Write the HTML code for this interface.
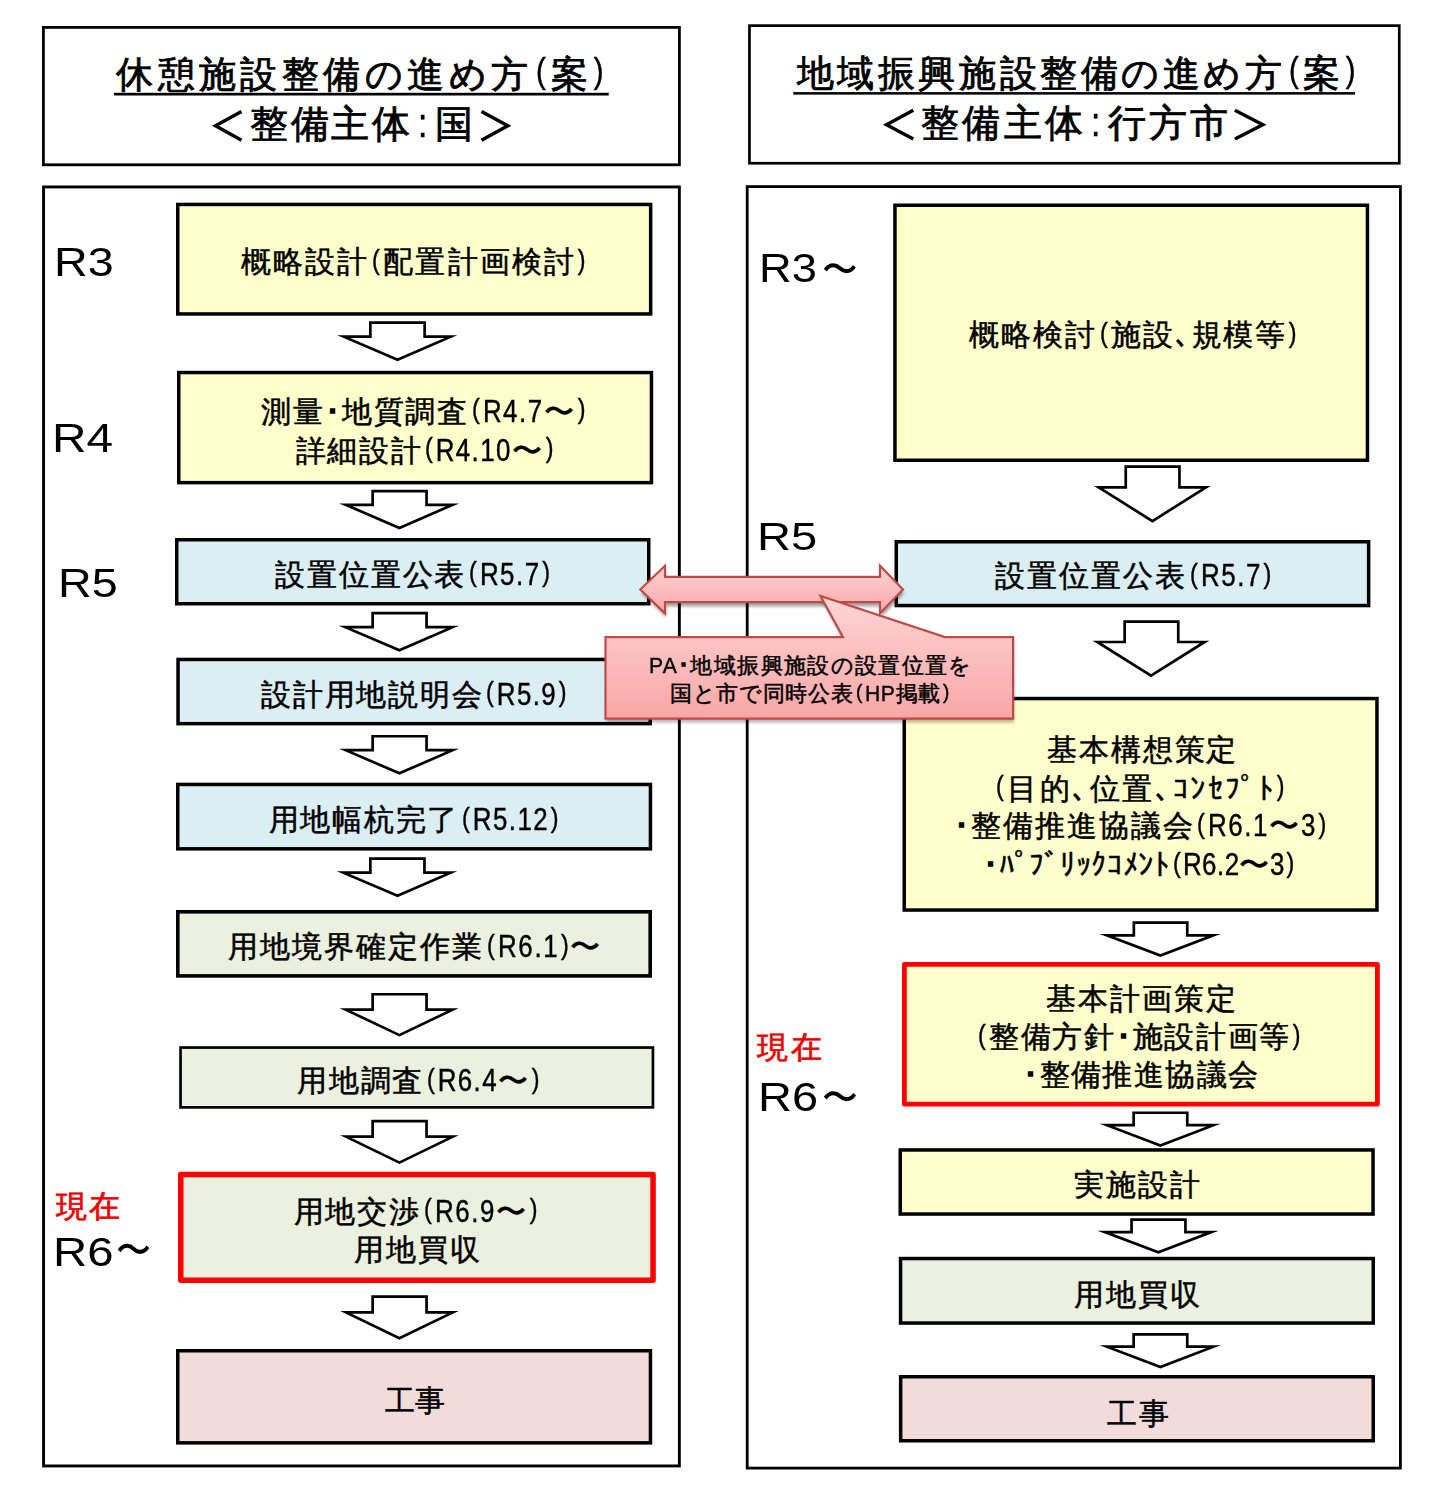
<!DOCTYPE html><html><head><meta charset="utf-8"><style>
html,body{margin:0;padding:0;background:#fff;width:1452px;height:1499px;overflow:hidden;position:relative;}
body{font-family:'Liberation Sans',sans-serif;}
.b{position:absolute;box-sizing:border-box;}
.t{position:absolute;white-space:nowrap;line-height:1;color:#000;transform-origin:0 0;}
</style></head><body>
<svg width="1452" height="1499" style="position:absolute;left:0;top:0">
<rect x="43.40" y="27.40" width="636.00" height="137.40" fill="#fff" stroke="#000" stroke-width="2.80"/>
<rect x="749.45" y="25.65" width="649.80" height="137.60" fill="#fff" stroke="#000" stroke-width="2.70"/>
<rect x="43.55" y="186.95" width="635.80" height="1279.00" fill="#fff" stroke="#000" stroke-width="2.90"/>
<rect x="747.20" y="186.60" width="653.20" height="1281.50" fill="#fff" stroke="#000" stroke-width="2.80"/>
<rect x="177.75" y="204.45" width="472.90" height="109.50" fill="#FFFFCC" stroke="#000" stroke-width="3.50"/>
<rect x="178.75" y="372.55" width="472.70" height="110.10" fill="#FFFFCC" stroke="#000" stroke-width="3.50"/>
<rect x="176.75" y="539.75" width="472.00" height="64.00" fill="#DBEEF4" stroke="#000" stroke-width="3.50"/>
<rect x="178.05" y="659.45" width="472.20" height="64.20" fill="#DBEEF4" stroke="#000" stroke-width="3.50"/>
<rect x="177.75" y="784.45" width="472.70" height="64.40" fill="#DBEEF4" stroke="#000" stroke-width="3.50"/>
<rect x="177.80" y="911.80" width="472.40" height="64.10" fill="#EBF1DE" stroke="#000" stroke-width="3.60"/>
<rect x="180.55" y="1047.55" width="472.40" height="59.80" fill="#EBF1DE" stroke="#000" stroke-width="2.70"/>
<rect x="180.75" y="1174.55" width="472.30" height="105.70" fill="#EBF1DE" stroke="#FF0000" stroke-width="5.50" stroke-linejoin="round"/>
<rect x="177.75" y="1350.75" width="472.70" height="92.10" fill="#F2DCDB" stroke="#000" stroke-width="3.50"/>
<rect x="894.95" y="205.25" width="472.50" height="255.00" fill="#FFFFCC" stroke="#000" stroke-width="3.50"/>
<rect x="896.25" y="541.75" width="472.40" height="63.80" fill="#DBEEF4" stroke="#000" stroke-width="3.50"/>
<rect x="904.25" y="698.55" width="472.70" height="211.50" fill="#FFFFCC" stroke="#000" stroke-width="3.50"/>
<rect x="904.40" y="964.30" width="473.00" height="139.90" fill="#FFFFCC" stroke="#FF0000" stroke-width="4.80" stroke-linejoin="round"/>
<rect x="900.25" y="1149.95" width="472.80" height="64.10" fill="#FFFFCC" stroke="#000" stroke-width="3.50"/>
<rect x="900.55" y="1258.55" width="472.70" height="64.50" fill="#EBF1DE" stroke="#000" stroke-width="3.50"/>
<rect x="900.65" y="1376.75" width="472.60" height="64.00" fill="#F2DCDB" stroke="#000" stroke-width="3.50"/>
<polygon points="370.35,322.65 424.65,322.65 424.65,336.70 450.77,336.70 397.50,359.83 343.73,336.70 370.35,336.70" fill="#fff" stroke="#000" stroke-width="2.7" stroke-miterlimit="12"/>
<polygon points="372.65,491.15 426.55,491.15 426.55,504.80 452.68,504.80 399.40,527.93 345.72,504.80 372.65,504.80" fill="#fff" stroke="#000" stroke-width="2.7" stroke-miterlimit="12"/>
<polygon points="372.65,613.15 426.55,613.15 426.55,627.20 452.65,627.20 399.40,650.33 345.25,627.20 372.65,627.20" fill="#fff" stroke="#000" stroke-width="2.7" stroke-miterlimit="12"/>
<polygon points="372.65,736.25 426.55,736.25 426.55,750.20 452.68,750.20 399.40,773.33 345.72,750.20 372.65,750.20" fill="#fff" stroke="#000" stroke-width="2.7" stroke-miterlimit="12"/>
<polygon points="370.35,858.55 424.45,858.55 424.45,872.70 450.75,872.70 397.50,895.83 343.35,872.70 370.35,872.70" fill="#fff" stroke="#000" stroke-width="2.7" stroke-miterlimit="12"/>
<polygon points="372.65,994.25 426.55,994.25 426.55,1009.60 452.72,1009.60 399.40,1035.10 345.58,1009.60 372.65,1009.60" fill="#fff" stroke="#000" stroke-width="2.7" stroke-miterlimit="12"/>
<polygon points="372.65,1121.15 426.55,1121.15 426.55,1136.60 452.84,1136.60 399.40,1162.60 345.96,1136.60 372.65,1136.60" fill="#fff" stroke="#000" stroke-width="2.7" stroke-miterlimit="12"/>
<polygon points="372.65,1296.65 426.55,1296.65 426.55,1312.40 452.80,1312.40 399.40,1338.20 346.00,1312.40 372.65,1312.40" fill="#fff" stroke="#000" stroke-width="2.7" stroke-miterlimit="12"/>
<polygon points="1125.75,466.65 1179.45,466.65 1179.45,487.30 1206.02,487.30 1152.40,521.10 1098.68,487.30 1125.75,487.30" fill="#fff" stroke="#000" stroke-width="2.7" stroke-miterlimit="12"/>
<polygon points="1124.65,621.65 1178.25,621.65 1178.25,642.00 1204.60,642.00 1151.00,675.61 1097.30,642.00 1124.65,642.00" fill="#fff" stroke="#000" stroke-width="2.7" stroke-miterlimit="12"/>
<polygon points="1133.85,922.55 1187.25,922.55 1187.25,935.30 1213.45,935.30 1160.40,955.56 1106.85,935.30 1133.85,935.30" fill="#fff" stroke="#000" stroke-width="2.7" stroke-miterlimit="12"/>
<polygon points="1133.65,1112.75 1187.25,1112.75 1187.25,1125.20 1213.45,1125.20 1160.40,1145.46 1106.85,1125.20 1133.65,1125.20" fill="#fff" stroke="#000" stroke-width="2.7" stroke-miterlimit="12"/>
<polygon points="1131.55,1219.55 1185.45,1219.55 1185.45,1232.10 1211.44,1232.10 1158.30,1252.36 1104.76,1232.10 1131.55,1232.10" fill="#fff" stroke="#000" stroke-width="2.7" stroke-miterlimit="12"/>
<polygon points="1133.65,1334.35 1187.25,1334.35 1187.25,1346.70 1213.45,1346.70 1160.40,1366.96 1106.85,1346.70 1133.65,1346.70" fill="#fff" stroke="#000" stroke-width="2.7" stroke-miterlimit="12"/>
</svg>
<div class="t" id="hL1" style="left:116.20px;top:55.89px;font-size:37.00px;transform:scaleX(1.0000);color:#000;-webkit-text-stroke:0.80px #000;letter-spacing:4.433px">休憩施設整備の進め方<span class="l" style="display:inline-block;line-height:0;font-size:1.070em;transform:scaleX(0.820);transform-origin:0 0;margin-left:3.0px;margin-right:-3.24px;-webkit-text-stroke:0.50px"><span style="font-size:0.9em;position:relative;top:-0.12em;margin-right:2px">(</span></span>案<span class="l" style="display:inline-block;line-height:0;font-size:1.070em;transform:scaleX(0.820);transform-origin:0 0;margin-left:0.0px;margin-right:-3.24px;-webkit-text-stroke:0.50px"><span style="font-size:0.9em;position:relative;top:-0.12em;margin-left:2px">)</span></span></div>
<div class="t" id="hL2" style="left:249.70px;top:105.39px;font-size:38.00px;transform:scaleX(1.0000);color:#000;-webkit-text-stroke:0.80px #000;letter-spacing:2.840px">整備主体<span class="l" style="display:inline-block;line-height:0;font-size:1.070em;transform:scaleX(0.820);transform-origin:0 0;margin-left:5.0px;margin-right:2.48px;-webkit-text-stroke:0.50px">:</span>国</div>
<div class="t" id="hR1" style="left:796.70px;top:55.09px;font-size:37.00px;transform:scaleX(1.0000);color:#000;-webkit-text-stroke:0.80px #000;letter-spacing:3.571px">地域振興施設整備の進め方<span class="l" style="display:inline-block;line-height:0;font-size:1.070em;transform:scaleX(0.820);transform-origin:0 0;margin-left:3.0px;margin-right:-3.06px;-webkit-text-stroke:0.50px"><span style="font-size:0.9em;position:relative;top:-0.12em;margin-right:2px">(</span></span>案<span class="l" style="display:inline-block;line-height:0;font-size:1.070em;transform:scaleX(0.820);transform-origin:0 0;margin-left:0.0px;margin-right:-3.06px;-webkit-text-stroke:0.50px"><span style="font-size:0.9em;position:relative;top:-0.12em;margin-left:2px">)</span></span></div>
<div class="t" id="hR2" style="left:921.30px;top:104.44px;font-size:38.00px;transform:scaleX(1.0000);color:#000;-webkit-text-stroke:0.80px #000;letter-spacing:3.143px">整備主体<span class="l" style="display:inline-block;line-height:0;font-size:1.070em;transform:scaleX(0.820);transform-origin:0 0;margin-left:5.0px;margin-right:2.48px;-webkit-text-stroke:0.50px">:</span>行方市</div>
<div class="t" id="B1" style="left:240.60px;top:247.05px;font-size:29.50px;transform:scaleX(1.0000);color:#000;-webkit-text-stroke:0.50px #000;letter-spacing:2.145px">概略設計<span class="l" style="display:inline-block;line-height:0;font-size:1.070em;transform:scaleX(0.820);transform-origin:0 0;margin-left:3.0px;margin-right:-2.52px;-webkit-text-stroke:0.45px"><span style="font-size:0.9em;position:relative;top:-0.12em;margin-right:2px">(</span></span>配置計画検討<span class="l" style="display:inline-block;line-height:0;font-size:1.070em;transform:scaleX(0.820);transform-origin:0 0;margin-left:0.0px;margin-right:-2.52px;-webkit-text-stroke:0.45px"><span style="font-size:0.9em;position:relative;top:-0.12em;margin-left:2px">)</span></span></div>
<div class="t" id="B2a" style="left:261.30px;top:396.55px;font-size:29.50px;transform:scaleX(1.0000);color:#000;-webkit-text-stroke:0.50px #000;letter-spacing:1.831px">測量<span style="-webkit-text-stroke:1.3px">･</span>地質調査<span class="l" style="display:inline-block;line-height:0;font-size:1.070em;transform:scaleX(0.820);transform-origin:0 0;margin-left:3.0px;margin-right:-15.66px;-webkit-text-stroke:0.45px"><span style="font-size:0.9em;position:relative;top:-0.12em;margin-right:2px">(</span>R4.7</span>〜<span class="l" style="display:inline-block;line-height:0;font-size:1.070em;transform:scaleX(0.820);transform-origin:0 0;margin-left:0.0px;margin-right:-2.34px;-webkit-text-stroke:0.45px"><span style="font-size:0.9em;position:relative;top:-0.12em;margin-left:2px">)</span></span></div>
<div class="t" id="B2b" style="left:295.70px;top:435.70px;font-size:29.50px;transform:scaleX(1.0000);color:#000;-webkit-text-stroke:0.50px #000;letter-spacing:1.673px">詳細設計<span class="l" style="display:inline-block;line-height:0;font-size:1.070em;transform:scaleX(0.820);transform-origin:0 0;margin-left:3.0px;margin-right:-19.08px;-webkit-text-stroke:0.45px"><span style="font-size:0.9em;position:relative;top:-0.12em;margin-right:2px">(</span>R4.10</span>〜<span class="l" style="display:inline-block;line-height:0;font-size:1.070em;transform:scaleX(0.820);transform-origin:0 0;margin-left:0.0px;margin-right:-2.34px;-webkit-text-stroke:0.45px"><span style="font-size:0.9em;position:relative;top:-0.12em;margin-left:2px">)</span></span></div>
<div class="t" id="B3" style="left:275.30px;top:559.90px;font-size:29.50px;transform:scaleX(1.0000);color:#000;-webkit-text-stroke:0.50px #000;letter-spacing:1.836px">設置位置公表<span class="l" style="display:inline-block;line-height:0;font-size:1.070em;transform:scaleX(0.820);transform-origin:0 0;margin-left:3.0px;margin-right:-18.00px;-webkit-text-stroke:0.45px"><span style="font-size:0.9em;position:relative;top:-0.12em;margin-right:2px">(</span>R5.7<span style="font-size:0.9em;position:relative;top:-0.12em;margin-left:2px">)</span></span></div>
<div class="t" id="B4" style="left:261.20px;top:679.60px;font-size:29.50px;transform:scaleX(1.0000);color:#000;-webkit-text-stroke:0.50px #000;letter-spacing:1.733px">設計用地説明会<span class="l" style="display:inline-block;line-height:0;font-size:1.070em;transform:scaleX(0.820);transform-origin:0 0;margin-left:3.0px;margin-right:-18.00px;-webkit-text-stroke:0.45px"><span style="font-size:0.9em;position:relative;top:-0.12em;margin-right:2px">(</span>R5.9<span style="font-size:0.9em;position:relative;top:-0.12em;margin-left:2px">)</span></span></div>
<div class="t" id="B5" style="left:268.70px;top:805.40px;font-size:29.50px;transform:scaleX(1.0000);color:#000;-webkit-text-stroke:0.50px #000;letter-spacing:1.750px">用地幅杭完了<span class="l" style="display:inline-block;line-height:0;font-size:1.070em;transform:scaleX(0.820);transform-origin:0 0;margin-left:3.0px;margin-right:-21.42px;-webkit-text-stroke:0.45px"><span style="font-size:0.9em;position:relative;top:-0.12em;margin-right:2px">(</span>R5.12<span style="font-size:0.9em;position:relative;top:-0.12em;margin-left:2px">)</span></span></div>
<div class="t" id="B6" style="left:227.80px;top:932.10px;font-size:29.50px;transform:scaleX(1.0000);color:#000;-webkit-text-stroke:0.50px #000;letter-spacing:2.000px">用地境界確定作業<span class="l" style="display:inline-block;line-height:0;font-size:1.070em;transform:scaleX(0.820);transform-origin:0 0;margin-left:3.0px;margin-right:-18.36px;-webkit-text-stroke:0.45px"><span style="font-size:0.9em;position:relative;top:-0.12em;margin-right:2px">(</span>R6.1<span style="font-size:0.9em;position:relative;top:-0.12em;margin-left:2px">)</span></span>〜</div>
<div class="t" id="B7" style="left:297.30px;top:1066.00px;font-size:29.50px;transform:scaleX(1.0000);color:#000;-webkit-text-stroke:0.50px #000;letter-spacing:1.680px">用地調査<span class="l" style="display:inline-block;line-height:0;font-size:1.070em;transform:scaleX(0.820);transform-origin:0 0;margin-left:3.0px;margin-right:-15.48px;-webkit-text-stroke:0.45px"><span style="font-size:0.9em;position:relative;top:-0.12em;margin-right:2px">(</span>R6.4</span>〜<span class="l" style="display:inline-block;line-height:0;font-size:1.070em;transform:scaleX(0.820);transform-origin:0 0;margin-left:0.0px;margin-right:-2.34px;-webkit-text-stroke:0.45px"><span style="font-size:0.9em;position:relative;top:-0.12em;margin-left:2px">)</span></span></div>
<div class="t" id="B8a" style="left:293.60px;top:1196.75px;font-size:29.50px;transform:scaleX(1.0000);color:#000;-webkit-text-stroke:0.50px #000;letter-spacing:1.900px">用地交渉<span class="l" style="display:inline-block;line-height:0;font-size:1.070em;transform:scaleX(0.820);transform-origin:0 0;margin-left:3.0px;margin-right:-15.84px;-webkit-text-stroke:0.45px"><span style="font-size:0.9em;position:relative;top:-0.12em;margin-right:2px">(</span>R6.9</span>〜<span class="l" style="display:inline-block;line-height:0;font-size:1.070em;transform:scaleX(0.820);transform-origin:0 0;margin-left:0.0px;margin-right:-2.34px;-webkit-text-stroke:0.45px"><span style="font-size:0.9em;position:relative;top:-0.12em;margin-left:2px">)</span></span></div>
<div class="t" id="B8b" style="left:354.20px;top:1234.90px;font-size:29.50px;transform:scaleX(1.0000);color:#000;-webkit-text-stroke:0.50px #000;letter-spacing:2.067px">用地買収</div>
<div class="t" id="B9" style="left:385.00px;top:1386.05px;font-size:29.50px;transform:scaleX(1.0000);color:#000;-webkit-text-stroke:0.50px #000;letter-spacing:0.000px">工事</div>
<div class="t" id="RB1" style="left:969.30px;top:320.45px;font-size:29.50px;transform:scaleX(1.0000);color:#000;-webkit-text-stroke:0.50px #000;letter-spacing:1.891px">概略検討<span class="l" style="display:inline-block;line-height:0;font-size:1.070em;transform:scaleX(0.820);transform-origin:0 0;margin-left:3.0px;margin-right:-2.34px;-webkit-text-stroke:0.45px"><span style="font-size:0.9em;position:relative;top:-0.12em;margin-right:2px">(</span></span>施設､規模等<span class="l" style="display:inline-block;line-height:0;font-size:1.070em;transform:scaleX(0.820);transform-origin:0 0;margin-left:0.0px;margin-right:-2.34px;-webkit-text-stroke:0.45px"><span style="font-size:0.9em;position:relative;top:-0.12em;margin-left:2px">)</span></span></div>
<div class="t" id="RB2" style="left:995.30px;top:561.10px;font-size:29.50px;transform:scaleX(1.0000);color:#000;-webkit-text-stroke:0.50px #000;letter-spacing:1.909px">設置位置公表<span class="l" style="display:inline-block;line-height:0;font-size:1.070em;transform:scaleX(0.820);transform-origin:0 0;margin-left:3.0px;margin-right:-18.18px;-webkit-text-stroke:0.45px"><span style="font-size:0.9em;position:relative;top:-0.12em;margin-right:2px">(</span>R5.7<span style="font-size:0.9em;position:relative;top:-0.12em;margin-left:2px">)</span></span></div>
<div class="t" id="RB3a" style="left:1047.20px;top:735.40px;font-size:29.50px;transform:scaleX(1.0000);color:#000;-webkit-text-stroke:0.50px #000;letter-spacing:1.840px">基本構想策定</div>
<div class="t" id="RB3b" style="left:995.70px;top:773.90px;font-size:29.50px;transform:scaleX(1.0000);color:#000;-webkit-text-stroke:0.50px #000;letter-spacing:2.569px"><span class="l" style="display:inline-block;line-height:0;font-size:1.070em;transform:scaleX(0.820);transform-origin:0 0;margin-left:0.0px;margin-right:-2.52px;-webkit-text-stroke:0.45px"><span style="font-size:0.9em;position:relative;top:-0.12em;margin-right:2px">(</span></span>目的､位置､ｺﾝｾﾌﾟﾄ<span class="l" style="display:inline-block;line-height:0;font-size:1.070em;transform:scaleX(0.820);transform-origin:0 0;margin-left:0.0px;margin-right:-2.52px;-webkit-text-stroke:0.45px"><span style="font-size:0.9em;position:relative;top:-0.12em;margin-left:2px">)</span></span></div>
<div class="t" id="RB3c" style="left:954.00px;top:811.20px;font-size:29.50px;transform:scaleX(1.0000);color:#000;-webkit-text-stroke:0.50px #000;letter-spacing:1.933px"><span style="-webkit-text-stroke:1.3px">･</span>整備推進協議会<span class="l" style="display:inline-block;line-height:0;font-size:1.070em;transform:scaleX(0.820);transform-origin:0 0;margin-left:3.0px;margin-right:-15.84px;-webkit-text-stroke:0.45px"><span style="font-size:0.9em;position:relative;top:-0.12em;margin-right:2px">(</span>R6.1</span>〜<span class="l" style="display:inline-block;line-height:0;font-size:1.070em;transform:scaleX(0.820);transform-origin:0 0;margin-left:0.0px;margin-right:-5.94px;-webkit-text-stroke:0.45px">3<span style="font-size:0.9em;position:relative;top:-0.12em;margin-left:2px">)</span></span></div>
<div class="t" id="RB3d" style="left:983.20px;top:850.05px;font-size:29.50px;transform:scaleX(1.0000);color:#000;-webkit-text-stroke:0.50px #000;letter-spacing:0.632px"><span style="-webkit-text-stroke:1.3px">･</span>ﾊﾟﾌﾞﾘｯｸｺﾒﾝﾄ<span class="l" style="display:inline-block;line-height:0;font-size:1.070em;transform:scaleX(0.820);transform-origin:0 0;margin-left:3.0px;margin-right:-14.58px;-webkit-text-stroke:0.45px"><span style="font-size:0.9em;position:relative;top:-0.12em;margin-right:2px">(</span>R6.2</span>〜<span class="l" style="display:inline-block;line-height:0;font-size:1.070em;transform:scaleX(0.820);transform-origin:0 0;margin-left:0.0px;margin-right:-5.40px;-webkit-text-stroke:0.45px">3<span style="font-size:0.9em;position:relative;top:-0.12em;margin-left:2px">)</span></span></div>
<div class="t" id="RB4a" style="left:1045.80px;top:983.85px;font-size:29.50px;transform:scaleX(1.0000);color:#000;-webkit-text-stroke:0.50px #000;letter-spacing:1.960px">基本計画策定</div>
<div class="t" id="RB4b" style="left:977.90px;top:1022.05px;font-size:29.50px;transform:scaleX(1.0000);color:#000;-webkit-text-stroke:0.50px #000;letter-spacing:1.745px"><span class="l" style="display:inline-block;line-height:0;font-size:1.070em;transform:scaleX(0.820);transform-origin:0 0;margin-left:0.0px;margin-right:-2.34px;-webkit-text-stroke:0.45px"><span style="font-size:0.9em;position:relative;top:-0.12em;margin-right:2px">(</span></span>整備方針<span style="-webkit-text-stroke:1.3px">･</span>施設計画等<span class="l" style="display:inline-block;line-height:0;font-size:1.070em;transform:scaleX(0.820);transform-origin:0 0;margin-left:0.0px;margin-right:-2.34px;-webkit-text-stroke:0.45px"><span style="font-size:0.9em;position:relative;top:-0.12em;margin-left:2px">)</span></span></div>
<div class="t" id="RB4c" style="left:1023.00px;top:1059.50px;font-size:29.50px;transform:scaleX(1.0000);color:#000;-webkit-text-stroke:0.50px #000;letter-spacing:1.486px"><span style="-webkit-text-stroke:1.3px">･</span>整備推進協議会</div>
<div class="t" id="RB5" style="left:1073.90px;top:1169.55px;font-size:29.50px;transform:scaleX(1.0000);color:#000;-webkit-text-stroke:0.50px #000;letter-spacing:2.133px">実施設計</div>
<div class="t" id="RB6" style="left:1073.90px;top:1279.65px;font-size:29.50px;transform:scaleX(1.0000);color:#000;-webkit-text-stroke:0.50px #000;letter-spacing:2.133px">用地買収</div>
<div class="t" id="RB7" style="left:1107.40px;top:1398.55px;font-size:29.50px;transform:scaleX(1.0000);color:#000;-webkit-text-stroke:0.50px #000;letter-spacing:1.600px">工事</div>
<div class="t" id="LR3" style="left:53.60px;top:241.60px;font-size:41.18px;transform:scaleX(1.1336);color:#000;-webkit-text-stroke:0.00px #000;letter-spacing:0.000px">R3</div>
<div class="t" id="LR4" style="left:52.00px;top:417.60px;font-size:41.18px;transform:scaleX(1.1600);color:#000;-webkit-text-stroke:0.00px #000;letter-spacing:0.000px">R4</div>
<div class="t" id="LR5" style="left:57.90px;top:562.65px;font-size:41.32px;transform:scaleX(1.1294);color:#000;-webkit-text-stroke:0.00px #000;letter-spacing:0.000px">R5</div>
<div class="t" id="LR6" style="left:52.60px;top:1232.85px;font-size:40.15px;transform:scaleX(1.1793);color:#000;-webkit-text-stroke:0.00px #000;letter-spacing:0.000px">R6</div>
<div class="t" id="LR6t" style="left:116.30px;top:1230.95px;font-size:40.20px;transform:scaleX(0.8781);color:#000;-webkit-text-stroke:0.00px #000;letter-spacing:0.000px">〜</div>
<div class="t" id="Lnow" style="left:56.00px;top:1191.45px;font-size:31.00px;transform:scaleX(1.0000);color:#EE0000;-webkit-text-stroke:0.70px #EE0000;letter-spacing:1.800px">現在</div>
<div class="t" id="RR3" style="left:759.00px;top:248.10px;font-size:40.00px;transform:scaleX(1.1326);color:#000;-webkit-text-stroke:0.00px #000;letter-spacing:0.000px">R3</div>
<div class="t" id="RR3t" style="left:822.00px;top:250.50px;font-size:38.50px;transform:scaleX(0.9143);color:#000;-webkit-text-stroke:0.00px #000;letter-spacing:0.000px">〜</div>
<div class="t" id="RR5" style="left:757.00px;top:518.10px;font-size:38.53px;transform:scaleX(1.2226);color:#000;-webkit-text-stroke:0.00px #000;letter-spacing:0.000px">R5</div>
<div class="t" id="RR6" style="left:758.00px;top:1077.85px;font-size:40.15px;transform:scaleX(1.1706);color:#000;-webkit-text-stroke:0.00px #000;letter-spacing:0.000px">R6</div>
<div class="t" id="RR6t" style="left:821.50px;top:1079.05px;font-size:38.50px;transform:scaleX(0.9204);color:#000;-webkit-text-stroke:0.00px #000;letter-spacing:0.000px">〜</div>
<div class="t" id="Rnow" style="left:757.40px;top:1031.50px;font-size:31.00px;transform:scaleX(1.0000);color:#EE0000;-webkit-text-stroke:0.70px #EE0000;letter-spacing:2.200px">現在</div>
<svg width="1452" height="1499" style="position:absolute;left:0;top:0">
<defs>
<linearGradient id="pg" x1="0" y1="0" x2="0" y2="1">
<stop offset="0" stop-color="#FDD3D3"/><stop offset="1" stop-color="#F9A8A8"/>
</linearGradient>
<linearGradient id="pg2" gradientUnits="userSpaceOnUse" x1="0" y1="595" x2="0" y2="719">
<stop offset="0" stop-color="#FDD6D6"/><stop offset="1" stop-color="#F9A6A6"/>
</linearGradient>
<filter id="blur" x="-10%" y="-30%" width="120%" height="160%"><feGaussianBlur stdDeviation="1.8"/></filter>
</defs>
<!-- underlines -->
<rect x="114.1" y="92.8" width="494.6" height="2.7" fill="#000"/>
<rect x="793.2" y="92.1" width="561.8" height="2.5" fill="#000"/>
<!-- chevrons -->
<polyline points="241.5,111.5 215.5,125.8 241.5,140.2" fill="none" stroke="#000" stroke-width="3.4" stroke-miterlimit="10"/>
<polyline points="481.5,111.5 507.8,125.8 481.5,140.2" fill="none" stroke="#000" stroke-width="3.4" stroke-miterlimit="10"/>
<polyline points="913.3,110.2 886.5,124.7 913.3,139.1" fill="none" stroke="#000" stroke-width="3.4" stroke-miterlimit="10"/>
<polyline points="1234.9,110.2 1262.8,124.7 1234.9,139.1" fill="none" stroke="#000" stroke-width="3.4" stroke-miterlimit="10"/>
<!-- double arrow shadow -->
<polygon points="641.5,593.5 666,569.5 666,581 881,581 881,569.5 904,593.5 881,617.5 881,606.5 666,606.5 666,617.5" fill="rgba(0,0,0,0.36)" filter="url(#blur)"/>
<polygon points="640.3,589.5 665,565.8 665,576.9 880,576.9 880,565.8 903,589.5 880,613.3 880,602.2 665,602.2 665,613.3" fill="url(#pg)" stroke="#BE4B48" stroke-width="2.2" stroke-miterlimit="10"/>
<!-- callout shadow -->
<polygon points="606.5,640 843,640 820.5,599 945,640 1014,640 1014,722.5 606.5,722.5" fill="rgba(0,0,0,0.28)" filter="url(#blur)"/>
<polygon points="605.5,637.1 843,637.1 820.5,596 945,637.1 1013.1,637.1 1013.1,718.7 605.5,718.7" fill="url(#pg2)" stroke="#BE4B48" stroke-width="2.2" stroke-miterlimit="10"/>
</svg>

<div class="t" id="C1" style="left:648.80px;top:654.86px;font-size:21.80px;transform:scaleX(1.0000);color:#000;-webkit-text-stroke:0.50px #000;letter-spacing:1.357px"><span class="l" style="display:inline-block;line-height:0;font-size:1.000em;transform:scaleX(0.970);transform-origin:0 0;margin-left:0.0px;margin-right:-0.90px;-webkit-text-stroke:0.40px">PA</span><span style="-webkit-text-stroke:1.3px">･</span>地域振興施設の設置位置を</div>
<div class="t" id="C2" style="left:670.00px;top:682.96px;font-size:21.80px;transform:scaleX(1.0000);color:#000;-webkit-text-stroke:0.50px #000;letter-spacing:0.646px">国と市で同時公表<span class="l" style="display:inline-block;line-height:0;font-size:1.000em;transform:scaleX(0.970);transform-origin:0 0;margin-left:3.0px;margin-right:-1.23px;-webkit-text-stroke:0.40px"><span style="font-size:0.9em;position:relative;top:-0.12em;margin-right:2px">(</span>HP</span>掲載<span class="l" style="display:inline-block;line-height:0;font-size:1.000em;transform:scaleX(0.970);transform-origin:0 0;margin-left:0.0px;margin-right:-0.27px;-webkit-text-stroke:0.40px"><span style="font-size:0.9em;position:relative;top:-0.12em;margin-left:2px">)</span></span></div>
</body></html>
